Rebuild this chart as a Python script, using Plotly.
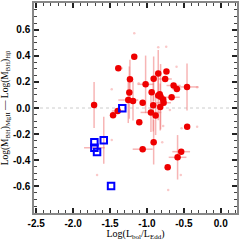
import plotly.graph_objects as go

# red filled circles
red_x = [-1.716, -1.388, -1.459, -1.396, -1.230, -1.239, -1.253, -1.189, -1.172, -1.104,
         -1.058, -1.018, -0.936, -0.909, -0.915, -0.946, -0.882, -0.847, -0.847, -0.827,
         -0.815, -0.780, -0.774, -0.820, -0.753, -0.736, -0.666, -0.639, -0.595, -0.457,
         -0.909, -1.058, -0.455, -0.536, -0.585, -0.719]
red_y = [0.023, 0.304, -0.056, -0.023, 0.219, 0.118, 0.061, 0.054, 0.392, -0.109,
         0.041, 0.181, 0.120, 0.224, 0.021, -0.034, -0.057, 0.264, 0.096, 0.105,
         0.086, 0.065, 0.040, 0.008, 0.222, 0.279, 0.082, 0.172, 0.145, 0.161,
         -0.262, -0.315, -0.144, -0.334, -0.377, -0.453]
red_xerr = [0, 0, 0, 0.08, 0, 0, 0.135, 0, 0, 0,
            0, 0.11, 0, 0, 0, 0.14, 0, 0, 0, 0,
            0, 0, 0.10, 0, 0.09, 0, 0.11, 0.095, 0.06, 0.155,
            0, 0.135, 0, 0.12, 0.12, 0]
red_yerr = [0.176, 0, 0, 0, 0.15, 0.2, 0.176, 0.15, 0, 0,
            0, 0.22, 0, 0.17, 0.2, 0.15, 0.15, 0.18, 0.19, 0,
            0.25, 0, 0, 0.18, 0, 0, 0, 0, 0, 0.18,
            0.17, 0, 0, 0, 0.17, 0]

# blue open squares
blue_x = [-1.712, -1.712, -1.676, -1.585, -1.486, -1.334]
blue_y = [-0.262, -0.304, -0.336, -0.247, -0.596, -0.002]
blue_xerr = [0, 0.14, 0, 0, 0, 0]
blue_yerr = [0, 0, 0, 0.18, 0, 0]

# faint small specks
faint_x = [-1.172, -0.847, -0.739, -1.342, -0.599, -1.477, -1.112, -0.320, -0.689,
           -0.780, -0.531, -0.320, -0.793, -1.477, -0.541, -0.712, -1.676]
faint_y = [0.571, 0.464, 0.469, 0.304, 0.316, 0.143, 0.189, 0.158, -0.015,
           -0.138, -0.155, -0.143, -0.262, -0.245, -0.512, -0.627, -0.512]

x_ticks = [-2.5, -2.0, -1.5, -1.0, -0.5, 0.0]
y_ticks = [-0.6, -0.4, -0.2, 0.0, 0.2, 0.4, 0.6]

pink = "rgba(240,120,120,0.55)"

fig = go.Figure()
fig.add_trace(go.Scatter(x=[-2.53, 0.22], y=[0, 0], mode="lines",
                         line=dict(color="#cccccc", width=1, dash="dot"),
                         hoverinfo="skip", showlegend=False))
fig.add_trace(go.Scatter(x=faint_x, y=faint_y, mode="markers",
                         marker=dict(size=2.5, color="rgba(240,100,100,0.35)"),
                         showlegend=False))
fig.add_trace(go.Scatter(
    x=red_x, y=red_y, mode="markers",
    error_x=dict(type="data", array=red_xerr, color=pink, thickness=1.5, width=0),
    error_y=dict(type="data", array=red_yerr, color=pink, thickness=1.5, width=0),
    marker=dict(size=6.5, color="#ee0000", line=dict(width=0)),
    showlegend=False))
fig.add_trace(go.Scatter(
    x=blue_x, y=blue_y, mode="markers",
    error_x=dict(type="data", array=blue_xerr, color=pink, thickness=1.5, width=0),
    error_y=dict(type="data", array=blue_yerr, color=pink, thickness=1.5, width=0),
    marker=dict(symbol="square-open", size=6.5, color="#0000ff", line=dict(width=2)),
    showlegend=False))

axis_common = dict(
    showgrid=False, zeroline=False, showline=True, linecolor="#888888", linewidth=1.5,
    mirror="ticks", ticks="inside", ticklen=5, tickwidth=1.5, tickcolor="#222222",
    automargin=False,
    tickfont=dict(family="Liberation Sans", size=10, color="black", weight="bold"),
)

fig.update_xaxes(range=[-2.53, 0.22], tickvals=x_ticks,
                 ticktext=[f"{v:.1f}" for v in x_ticks],
                 minor=dict(dtick=0.1, ticks="inside", ticklen=3, tickwidth=1, tickcolor="#444444"),
                 title=dict(text="Log(L<sub>bol</sub>/L<sub>Edd</sub>)",
                            font=dict(family="Liberation Serif", size=10, color="black")),
                 **axis_common)
fig.update_yaxes(range=[-0.803, 0.803], tickvals=y_ticks,
                 ticktext=[f"{v:.1f}" for v in y_ticks],
                 minor=dict(dtick=0.05, ticks="inside", ticklen=3, tickwidth=1, tickcolor="#444444"),
                 title=dict(text="Log(M<sub>BH</sub>)<sub>MgII</sub> \u2014 Log(M<sub>BH</sub>)<sub>H\u03b2</sub>",
                            font=dict(family="Liberation Serif", size=9.5, color="black")),
                 **axis_common)

fig.update_layout(width=241, height=241, margin=dict(l=34, r=4, t=3, b=28),
                  paper_bgcolor="white", plot_bgcolor="white")
fig.write_html("out.html", config={"displayModeBar": False},
               post_script="document.body.style.margin='0';")
